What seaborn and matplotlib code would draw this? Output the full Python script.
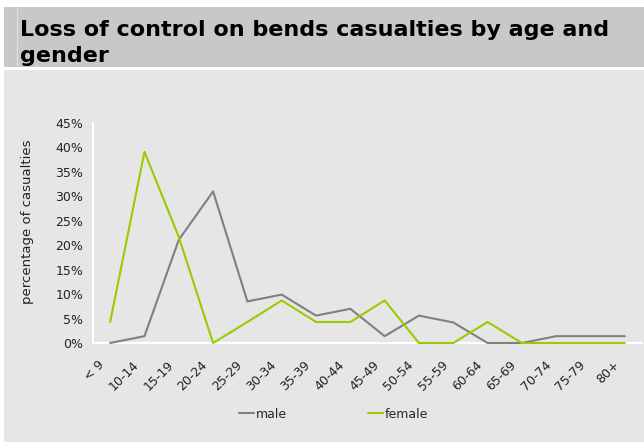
import numpy as np
import pandas as pd
import matplotlib
matplotlib.use("Agg")
import matplotlib.pyplot as plt
import matplotlib.transforms as mtransforms
import seaborn as sns
from matplotlib.patches import Rectangle
from matplotlib.lines import Line2D
from matplotlib.ticker import PercentFormatter, MultipleLocator

age_groups = ["< 9", "10-14", "15-19", "20-24", "25-29", "30-34", "35-39", "40-44",
              "45-49", "50-54", "55-59", "60-64", "65-69", "70-74", "75-79", "80+"]
male = [0.0, 1.4, 21.1, 31.0, 8.5, 9.9, 5.6, 7.0, 1.4, 5.6, 4.2, 0.0, 0.0, 1.4, 1.4, 1.4]
female = [4.3, 39.1, 21.7, 0.0, 4.3, 8.7, 4.3, 4.3, 8.7, 0.0, 0.0, 4.3, 0.0, 0.0, 0.0, 0.0]
series_names = ["male", "female"]
colors = {"male": "#808080", "female": "#99cc00"}

df = pd.DataFrame({
    "age": age_groups * 2,
    "x": list(range(len(age_groups))) * 2,
    "pct": male + female,
    "gender": ["male"] * len(male) + ["female"] * len(female),
})

sns.set_style("white")
plt.rcParams["font.family"] = ["DejaVu Sans"]

W, H = 644, 442
fig = plt.figure(figsize=(W / 100, H / 100), dpi=100)
fig.patch.set_facecolor("white")

# background bands
fig.patches.append(Rectangle((4 / W, 1 - 67 / H), 640 / W, 60 / H, transform=fig.transFigure,
                             facecolor="#c8c8c8", edgecolor="none", zorder=-5))
fig.patches.append(Rectangle((4 / W, 0), 640 / W, 1 - 70 / H, transform=fig.transFigure,
                             facecolor="#e6e6e6", edgecolor="none", zorder=-5))
fig.lines.append(Line2D([17 / W, 17 / W], [1 - 65 / H, 1 - 9 / H], transform=fig.transFigure,
                        color="#e0e0e0", lw=0.8, zorder=-4))

fig.text(20 / W, 1 - 43 / H, "Loss of control on bends casualties by age and\ngender",
         fontsize=16, fontweight="bold", color="black", va="center", ha="left",
         linespacing=1.4)

ax = fig.add_axes([93 / W, 1 - 343 / H, 549 / W, 220 / H])
ax.set_facecolor("none")
sns.lineplot(data=df, x="x", y="pct", hue="gender", hue_order=series_names,
             palette=colors, ax=ax, linewidth=1.5, legend=False)
for ln in ax.lines:
    ln.set_zorder(3)
    ln.set_clip_on(False)

ax.set_xlim(-0.5, len(age_groups) - 0.5)
ax.set_ylim(0, 45)
ax.yaxis.set_major_locator(MultipleLocator(5))
ax.yaxis.set_major_formatter(PercentFormatter(decimals=0))
ax.set_xticks(range(len(age_groups)))
ax.set_xticklabels([])
label_tr = ax.get_xaxis_transform() + mtransforms.ScaledTranslation(-0.12, -0.15, fig.dpi_scale_trans)
for i, lab in enumerate(age_groups):
    ax.text(i, 0, lab, transform=label_tr, rotation=45, ha="right", va="top",
            rotation_mode="anchor", fontsize=9, color="#222222", clip_on=False)
for s in ["top", "right"]:
    ax.spines[s].set_visible(False)
for s in ["left", "bottom"]:
    ax.spines[s].set_color("white")
    ax.spines[s].set_linewidth(1.5)
ax.tick_params(axis="y", length=5, color="white", width=1.2, labelsize=9, labelcolor="#222222", pad=2)
ax.tick_params(axis="x", length=0)
ax.set_xlabel("")
ax.set_ylabel("percentage of casualties", fontsize=9.5, color="#222222")
ax.yaxis.set_label_coords(-0.107, 0.55)

handles = [Line2D([], [], color=colors[n], lw=1.5) for n in series_names]
fig.legend(handles, series_names, loc="center", bbox_to_anchor=(0.518, 1 - 414 / H),
           ncol=2, frameon=False, fontsize=9, handlelength=1.2, handletextpad=0.1,
           columnspacing=6.5)

fig.savefig("out.png", dpi=100, facecolor="white")
